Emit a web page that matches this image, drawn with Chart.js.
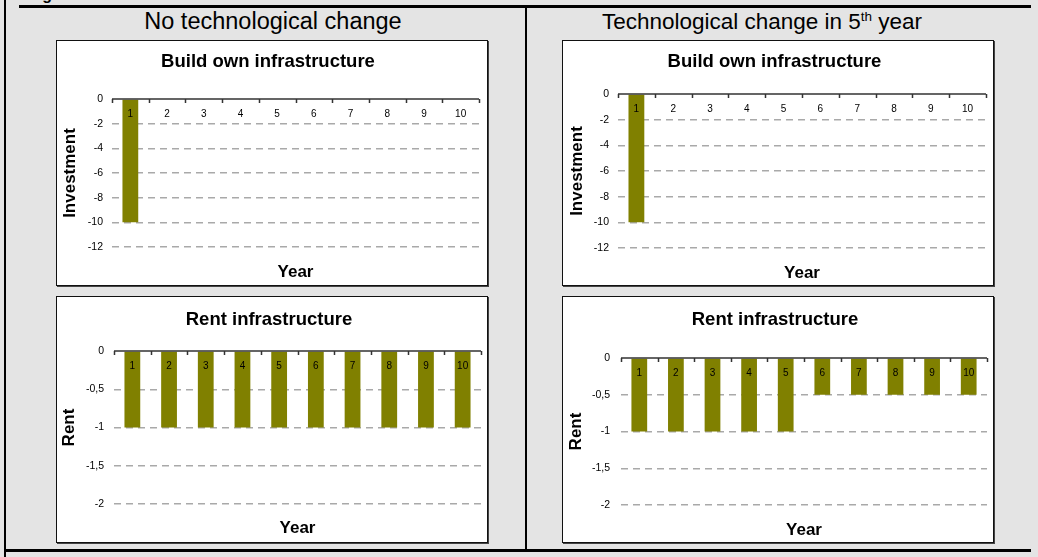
<!DOCTYPE html>
<html>
<head>
<meta charset="utf-8">
<script src="https://cdn.jsdelivr.net/npm/chart.js@4/dist/chart.umd.min.js"></script>
<style>
  html, body { margin: 0; padding: 0; }
  body { width: 1038px; height: 557px; background: #e4e4e4; position: relative; overflow: hidden;
         font-family: "Liberation Sans", Arial, sans-serif; }
  .rule { position: absolute; background: #000; }
  .caption { position: absolute; font-weight: bold; font-size: 16px; line-height: 16px; white-space: nowrap; }
  .head { position: absolute; font-size: 23.5px; line-height: 23px; white-space: nowrap; color: #000;
          transform: translateX(-50%); }
  .head sup { font-size: 0.6em; position: relative; top: -0.55em; vertical-align: baseline; line-height: 0; }
  .panel { position: absolute; box-sizing: border-box; background: #fff; border: 1px solid #111;
           box-shadow: 1px 1px 0 #444; }
  .panel canvas { position: absolute; left: 0; top: 0; }
</style>
</head>
<body>
<div class="caption" style="left:28px; top:-13.5px;">Figure</div>
<div class="rule" style="left:4px; top:0; width:2px; height:557px;"></div>
<div class="rule" style="left:19px; top:5px; width:1012px; height:3px;"></div>
<div class="rule" style="left:4px; top:549px; width:1027px; height:3px;"></div>
<div class="rule" style="left:525px; top:5px; width:2px; height:547px;"></div>

<div class="head" style="left:273px; top:9.5px;">No technological change</div>
<div class="head" style="left:762px; top:9.5px; font-size:22.5px;">Technological change in 5<sup>th</sup> year</div>

<div class="panel" style="left:56px; top:40px; width:432px; height:246px;"><canvas id="c1" width="430" height="244"></canvas></div>
<div class="panel" style="left:562px; top:40px; width:432px; height:246px;"><canvas id="c2" width="430" height="244"></canvas></div>
<div class="panel" style="left:56px; top:296px; width:432px; height:247px;"><canvas id="c3" width="430" height="245"></canvas></div>
<div class="panel" style="left:562px; top:296px; width:432px; height:247px;"><canvas id="c4" width="430" height="245"></canvas></div>

<script>
// Years on the category axis
const years = ['1', '2', '3', '4', '5', '6', '7', '8', '9', '10'];

// Investment when building own infrastructure (paid once, in year 1)
const buildNoChange   = [-10, 0, 0, 0, 0, 0, 0, 0, 0, 0];
const buildTechChange = [-10, 0, 0, 0, 0, 0, 0, 0, 0, 0];

// Yearly rent when renting infrastructure
const rentNoChange   = [-1, -1, -1, -1, -1, -1, -1, -1, -1, -1];
const rentTechChange = [-1, -1, -1, -1, -1, -0.5, -0.5, -0.5, -0.5, -0.5];

// Value-axis ticks
const investmentTicks = [0, -2, -4, -6, -8, -10, -12];
const rentTicks = [0, -0.5, -1, -1.5, -2];

const FONT = '"Liberation Sans", Arial, sans-serif';
const OLIVE = '#808000';

// Category axis drawn along the zero line: axis rule, boundary ticks and year labels
const zeroAxisRow = {
  id: 'zeroAxisRow',
  afterDatasetsDraw(chart) {
    const { ctx, scales: { x, y } } = chart;
    const y0 = y.getPixelForValue(0);
    const n = chart.data.labels.length;
    ctx.save();
    ctx.strokeStyle = '#333';
    ctx.lineWidth = 1.5;
    ctx.beginPath();
    ctx.moveTo(x.left, y0);
    ctx.lineTo(x.right, y0);
    for (let i = 0; i <= n; i++) {
      const px = Math.round(x.left + (x.right - x.left) * i / n) + 0.5;
      ctx.moveTo(px, y0);
      ctx.lineTo(px, y0 + 4);
    }
    ctx.stroke();
    ctx.fillStyle = '#000';
    ctx.font = '10px ' + FONT;
    ctx.textAlign = 'center';
    ctx.textBaseline = 'middle';
    chart.data.labels.forEach((lab, i) => ctx.fillText(lab, x.getPixelForValue(i), y0 + 15));
    ctx.restore();
  }
};

function makeChart(id, opt) {
  const ticks = opt.ticks;
  return new Chart(document.getElementById(id), {
    type: 'bar',
    data: {
      labels: years,
      datasets: [{
        data: opt.values,
        backgroundColor: OLIVE,
        borderWidth: 0,
        barPercentage: 0.43,
        categoryPercentage: 1.0
      }]
    },
    options: {
      responsive: false,
      animation: false,
      devicePixelRatio: 1,
      layout: { padding: { left: 0, right: opt.padRight, top: 0, bottom: 0 } },
      plugins: {
        legend: { display: false },
        tooltip: { enabled: false },
        title: {
          display: true,
          text: opt.title,
          color: '#000',
          font: { family: FONT, size: 18.5, weight: 'bold', lineHeight: 1 },
          padding: { top: opt.titleTop, bottom: opt.titleBottom }
        }
      },
      scales: {
        x: {
          position: 'bottom',
          grid: { display: false, drawTicks: false },
          border: { display: false },
          ticks: { display: false },
          title: {
            display: true,
            text: 'Year',
            color: '#000',
            font: { family: FONT, size: 17, weight: 'bold', lineHeight: 1 },
            padding: { top: opt.yearTop, bottom: opt.yearBottom }
          }
        },
        y: {
          min: Math.min(...ticks),
          max: Math.max(...ticks),
          afterFit(scale) { scale.width = opt.axisWidth; },
          afterBuildTicks(scale) { scale.ticks = ticks.map(v => ({ value: v })); },
          // dashed horizontal gridlines
          border: { display: false, dash: [7, 5] },
          grid: {
            drawTicks: false,
            lineWidth: 1.5,
            color: c => (c.tick && c.tick.value === 0) ? 'rgba(0,0,0,0)' : '#a9a9a9'
          },
          ticks: {
            padding: opt.tickPad,
            color: '#000',
            font: { family: FONT, size: 10.5 },
            callback: v => String(v).replace('.', ',')
          },
          title: {
            display: true,
            text: opt.axisTitle,
            color: '#000',
            font: { family: FONT, size: 17, weight: 'bold', lineHeight: 1 },
            padding: { top: opt.axisTitlePad, bottom: 0 }
          }
        }
      }
    },
    plugins: [zeroAxisRow]
  });
}

makeChart('c1', {
  values: buildNoChange, ticks: investmentTicks, title: 'Build own infrastructure', axisTitle: 'Investment',
  padRight: 8, titleTop: 12, titleBottom: 27.5, yearTop: 16.5, yearBottom: 4.5,
  axisWidth: 55, tickPad: 9, axisTitlePad: 4.5
});
makeChart('c2', {
  values: buildTechChange, ticks: investmentTicks, title: 'Build own infrastructure', axisTitle: 'Investment',
  padRight: 7, titleTop: 12, titleBottom: 22.5, yearTop: 16.5, yearBottom: 3.5,
  axisWidth: 55, tickPad: 9, axisTitlePad: 5.5
});
makeChart('c3', {
  values: rentNoChange, ticks: rentTicks, title: 'Rent infrastructure', axisTitle: 'Rent',
  padRight: 6, titleTop: 14, titleBottom: 21.5, yearTop: 15.5, yearBottom: 5.5,
  axisWidth: 57, tickPad: 10, axisTitlePad: 3.5
});
makeChart('c4', {
  values: rentTechChange, ticks: rentTicks, title: 'Rent infrastructure', axisTitle: 'Rent',
  padRight: 6, titleTop: 14, titleBottom: 28.5, yearTop: 16.5, yearBottom: 3.5,
  axisWidth: 58, tickPad: 11, axisTitlePad: 4.5
});
</script>
</body>
</html>
